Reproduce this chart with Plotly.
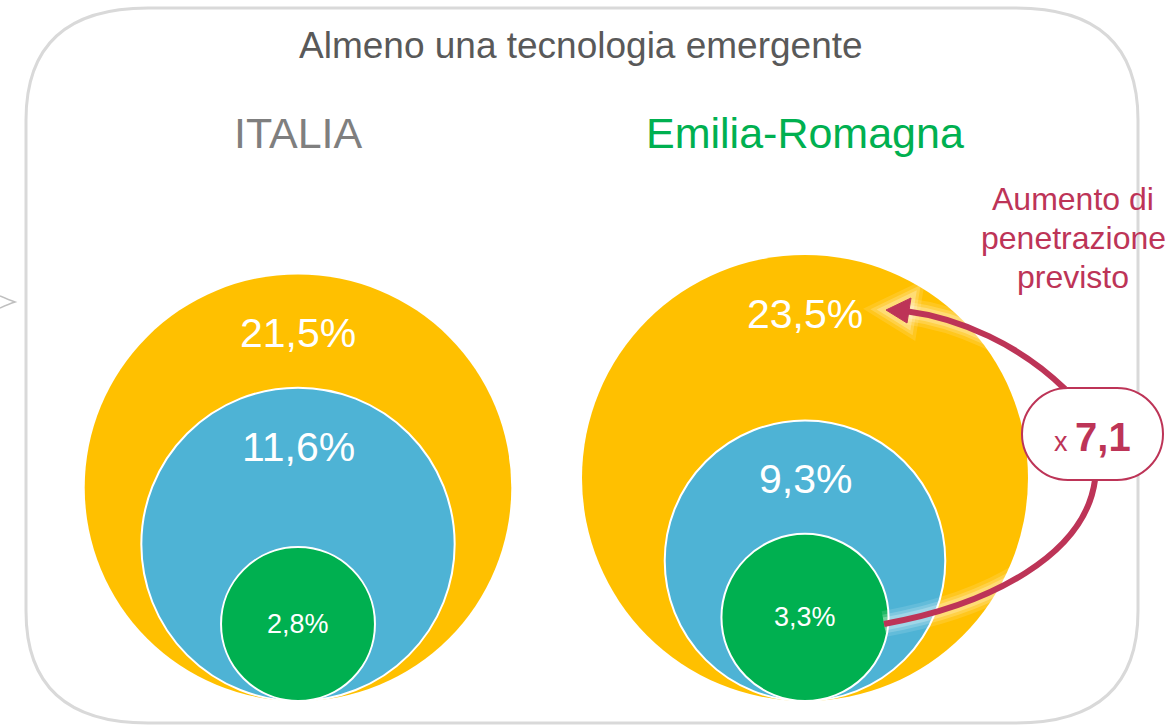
import math
import plotly.graph_objects as go

# ---------------- data ----------------
regions = ["ITALIA", "Emilia-Romagna"]
outer_vals = [21.5, 23.5]   # outer (yellow) circle values, %
mid_vals = [11.6, 9.3]      # middle (blue) circle values, %
inner_vals = [2.8, 3.3]     # inner (green) circle values, %
title_text = "Almeno una tecnologia emergente"
note_lines = ["Aumento di", "penetrazione", "previsto"]

# ---------------- style / layout ----------------
W, H = 1165, 726
FONT = "Liberation Sans, Arial, Helvetica, sans-serif"
YELLOW, BLUE, GREEN = "#FFC000", "#4EB3D5", "#00B050"
CRIMSON = "#BD3457"
centers_x = [298, 805]
baseline_y = 701
k = 46.0  # px radius per sqrt(%) (area-proportional circles)
region_colors = ["#7F7F7F", "#00B050"]


def fmt(v):
    return f"{v:.1f}".replace(".", ",") + "%"


def radius(v):
    return k * math.sqrt(v)


fig = go.Figure()
shapes = []
annotations = []

# rounded frame
x0, x1, y0, y1 = 26, 1138, 8, 723
rx, ry = 122, 112
frame = (f"M {x0+rx} {y0} L {x1-rx} {y0} Q {x1} {y0} {x1} {y0+ry} "
         f"L {x1} {y1-ry} Q {x1} {y1} {x1-rx} {y1} L {x0+rx} {y1} "
         f"Q {x0} {y1} {x0} {y1-ry} L {x0} {y0+ry} Q {x0} {y0} {x0+rx} {y0} Z")
shapes.append(dict(type="path", path=frame, line=dict(color="#D9D9D9", width=3),
                   fillcolor="rgba(0,0,0,0)", layer="below"))
# small chevron at left edge
shapes.append(dict(type="path", path="M 0 296 Q 9 300 15 302 Q 9 304 0 308",
                   line=dict(color="#BFBFBF", width=1.5)))

for i, reg in enumerate(regions):
    cx = centers_x[i]
    for vals, col, outline in [(outer_vals, YELLOW, 0), (mid_vals, BLUE, 2), (inner_vals, GREEN, 2)]:
        r = radius(vals[i])
        cy = baseline_y - r
        shapes.append(dict(type="circle", xref="x", yref="y",
                           x0=cx - r, x1=cx + r, y0=cy - r, y1=cy + r,
                           fillcolor=col,
                           line=dict(color="white", width=outline) if outline else dict(width=0)))
        if vals is inner_vals:
            ly, fs = cy, 27
        else:
            ly, fs = cy - r + 59, 41
        annotations.append(dict(x=cx, y=ly, text=fmt(vals[i]), showarrow=False,
                                font=dict(family=FONT, size=fs, color="white"),
                                xanchor="center", yanchor="middle"))
    annotations.append(dict(x=cx, y=133, text=reg, showarrow=False,
                            font=dict(family=FONT, size=43, color=region_colors[i]),
                            xanchor="center", yanchor="middle"))

annotations.append(dict(x=581, y=45, text=title_text, showarrow=False,
                        font=dict(family=FONT, size=37, color="#595959"),
                        xanchor="center", yanchor="middle"))

# arrows (growth from inner to outer, Emilia-Romagna)
low = "M 884 624 C 990 605, 1085 555, 1095 480"
up = "M 1065 389 C 1020 345, 960 318, 905 311"
head = "M 886 310 L 911 298 L 907 323 Z"
# soft white glow
for w, a in [(26, 0.12), (19, 0.18), (13, 0.25)]:
    for p in (low, up):
        shapes.append(dict(type="path", path=p, line=dict(color=f"rgba(255,255,255,{a})", width=w)))
    shapes.append(dict(type="path", path=head, line=dict(color=f"rgba(255,255,255,{a})", width=w - 4),
                       fillcolor=f"rgba(255,255,255,{a})"))
for p in (low, up):
    shapes.append(dict(type="path", path=p, line=dict(color=CRIMSON, width=6)))
shapes.append(dict(type="path", path=head, line=dict(color=CRIMSON, width=1), fillcolor=CRIMSON))

# pill
px0, px1, py0, py1 = 1022, 1163, 388, 480
pr = (py1 - py0) / 2
c = 0.5523 * pr
pill = (f"M {px0+pr} {py0} L {px1-pr} {py0} "
        f"C {px1-pr+c} {py0} {px1} {py0+pr-c} {px1} {py0+pr} "
        f"C {px1} {py0+pr+c} {px1-pr+c} {py1} {px1-pr} {py1} "
        f"L {px0+pr} {py1} "
        f"C {px0+pr-c} {py1} {px0} {py0+pr+c} {px0} {py0+pr} "
        f"C {px0} {py0+pr-c} {px0+pr-c} {py0} {px0+pr} {py0} Z")
shapes.append(dict(type="path", path=pill, line=dict(color=CRIMSON, width=2), fillcolor="white"))
mult = outer_vals[1] / inner_vals[1]
annotations.append(dict(x=1092, y=437,
                        text=f"<span style='font-size:27px'>x </span><b>{mult:.1f}".replace(".", ",") + "</b>",
                        showarrow=False, font=dict(family=FONT, size=40, color=CRIMSON),
                        xanchor="center", yanchor="middle"))

for j, line in enumerate(note_lines):
    annotations.append(dict(x=1073, y=199 + j * 39, text=line, showarrow=False,
                            font=dict(family=FONT, size=32, color=CRIMSON),
                            xanchor="center", yanchor="middle"))

fig.update_layout(
    width=W, height=H, autosize=False,
    margin=dict(l=0, r=0, t=0, b=0, pad=0),
    paper_bgcolor="white", plot_bgcolor="white",
    xaxis=dict(range=[0, W], visible=False, fixedrange=True),
    yaxis=dict(range=[H, 0], visible=False, fixedrange=True),
    shapes=shapes, annotations=annotations, showlegend=False,
)
fig.write_html("out.html", config={"displayModeBar": False},
               post_script="document.body.style.margin='0';")
